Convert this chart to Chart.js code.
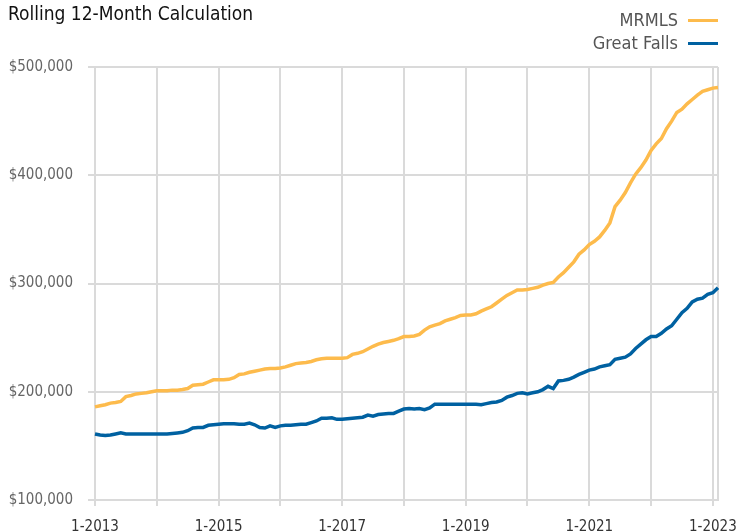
<!DOCTYPE html>
<html>
<head>
<meta charset="utf-8">
<script src="https://cdn.jsdelivr.net/npm/chart.js@4"></script>
<style>
  html, body { margin: 0; padding: 0; background: #fff; }
  #wrap { position: relative; width: 736px; height: 531px; }
  #title { position: absolute; left: 8px; top: 1px; font: 19px/24px "DejaVu Sans Condensed", sans-serif; color: #111; }
  #legend { position: absolute; right: 18px; top: 8px; font: 18px/23px "DejaVu Sans Condensed", sans-serif; color: #555; }
  #legend .row { display: flex; justify-content: flex-end; align-items: center; height: 23px; }
  #legend .swatch { display: inline-block; width: 30px; height: 3px; margin-left: 10px; margin-top: 1px; }
</style>
</head>
<body>
<div id="wrap">
  <canvas id="lineChart" width="736" height="531"></canvas>
  <div id="title">Rolling 12-Month Calculation</div>
  <div id="legend"></div>
</div>
<script>
// one value per month, 1-2013 .. 2-2023 (thousands of dollars)
var mrmls = [
  186, 187, 188, 189.5, 190, 191, 195.5, 196.5, 198, 198.5, 199, 200,
  201, 201, 201, 201.5, 201.5, 202, 203, 206, 206.5, 207, 209, 211,
  211, 211, 211.5, 213, 216, 216.5, 218, 219, 220, 221, 221.5, 221.5,
  222, 223, 224.5, 226, 226.5, 227, 228, 229.5, 230.5, 231, 231, 231,
  231, 231.5, 234.5, 235.5, 237, 239.5, 242, 244, 245.5, 246.5, 247.5, 249,
  251, 251, 251.5, 253, 257, 260, 261.5, 263, 265.5, 267, 268.5, 270.5,
  271, 271, 272, 274.5, 276.5, 278.5, 282, 285.5, 289, 291.5, 294, 294,
  294.5, 295.5, 296.5, 298.5, 300, 301, 306, 310, 315, 320, 327, 331,
  336, 339, 343, 349, 356, 371, 377, 384, 393, 401, 407, 414,
  423, 429, 434, 443, 450, 458, 461, 466, 470, 474, 477.5, 479,
  480.5, 481
];

var greatFalls = [
  161, 160, 159.5, 160, 161, 162, 161, 161, 161, 161, 161, 161,
  161, 161, 161, 161.5, 162, 162.5, 164, 166.5, 167, 167, 169, 169.5,
  170, 170.5, 170.5, 170.5, 170, 170, 171, 169.5, 167, 166.5, 168.5, 167,
  168.5, 169, 169, 169.5, 170, 170, 171.5, 173, 175.5, 175.5, 176, 174.5,
  174.5, 175, 175.5, 176, 176.5, 178.5, 177.5, 179, 179.5, 180, 180, 182,
  184, 184.5, 184, 184.5, 183.5, 185, 188.5, 188.5, 188.5, 188.5, 188.5, 188.5,
  188.5, 188.5, 188.5, 188, 189, 190, 190.5, 192, 195, 196.5, 198.5, 199,
  198, 199, 200, 202, 205, 203, 210, 210.5, 211.5, 213.5, 216, 218,
  220, 221, 223, 224, 225, 230, 231, 232, 235, 240, 244, 248,
  251, 251, 254, 258, 261, 267, 273, 277, 283, 285.5, 286.5, 290,
  291.5, 296
];

var seriesNames = ['MRMLS', 'Great Falls'];
var seriesColors = ['#fdbb4c', '#0061a1'];
var yTicks = [100000, 200000, 300000, 400000, 500000];

var monthLabels = [];
for (var i = 0; i < mrmls.length; i++) {
  monthLabels.push((i % 12 + 1) + '-' + (2013 + Math.floor(i / 12)));
}

var gridColor = '#dadada';
var font = "'DejaVu Sans Condensed', sans-serif";

var lineData = {
  labels: monthLabels,
  datasets: [{
    label: seriesNames[0],
    data: mrmls.map(function (v) { return v * 1000; }),
    borderColor: seriesColors[0],
    borderWidth: 3.5,
    pointRadius: 0,
    tension: 0
  }, {
    label: seriesNames[1],
    data: greatFalls.map(function (v) { return v * 1000; }),
    borderColor: seriesColors[1],
    borderWidth: 3.5,
    pointRadius: 0,
    tension: 0
  }]
};

var lineConfig = {
  type: 'line',
  data: lineData,
  options: {
    responsive: false,
    animation: false,
    layout: { padding: { top: 67, right: 18, left: 0, bottom: 0 } },
    plugins: { legend: { display: false }, title: { display: false }, tooltip: { enabled: false } },
    scales: {
      x: {
        grid: {
          lineWidth: 2,
          tickLength: 6,
          color: function (ctx) { return (ctx.index % 12 === 0 || ctx.index === monthLabels.length - 1) ? gridColor : 'rgba(0,0,0,0)'; },
          tickColor: function (ctx) { return ctx.index % 12 === 0 ? gridColor : 'rgba(0,0,0,0)'; }
        },
        border: { color: gridColor, width: 2 },
        ticks: {
          autoSkip: false,
          maxRotation: 0,
          padding: 12,
          color: '#333',
          font: { family: font, size: 15 },
          callback: function (val, i) { return i % 24 === 0 ? monthLabels[i] : ''; }
        },
        afterFit: function (scale) { scale.height = 31; scale.paddingLeft = 0; scale.paddingRight = 0; }
      },
      y: {
        min: yTicks[0],
        max: yTicks[yTicks.length - 1],
        afterBuildTicks: function (scale) { scale.ticks = yTicks.map(function (v) { return { value: v }; }); },
        grid: { lineWidth: 2, tickLength: 7, color: gridColor },
        border: { color: gridColor, width: 2 },
        ticks: {
          padding: 15,
          color: '#666',
          font: { family: font, size: 15 },
          callback: function (v) { return '$' + v.toLocaleString('en-US'); }
        },
        afterFit: function (scale) { scale.width = 95; scale.paddingTop = 0; scale.paddingBottom = 0; }
      }
    }
  }
};

var lineChart = new Chart(document.getElementById('lineChart'), lineConfig);

var legend = document.getElementById('legend');
seriesNames.forEach(function (name, i) {
  var row = document.createElement('div');
  row.className = 'row';
  var txt = document.createElement('span');
  txt.textContent = name;
  var sw = document.createElement('span');
  sw.className = 'swatch';
  sw.style.background = seriesColors[i];
  row.appendChild(txt);
  row.appendChild(sw);
  legend.appendChild(row);
});
</script>
</body>
</html>
